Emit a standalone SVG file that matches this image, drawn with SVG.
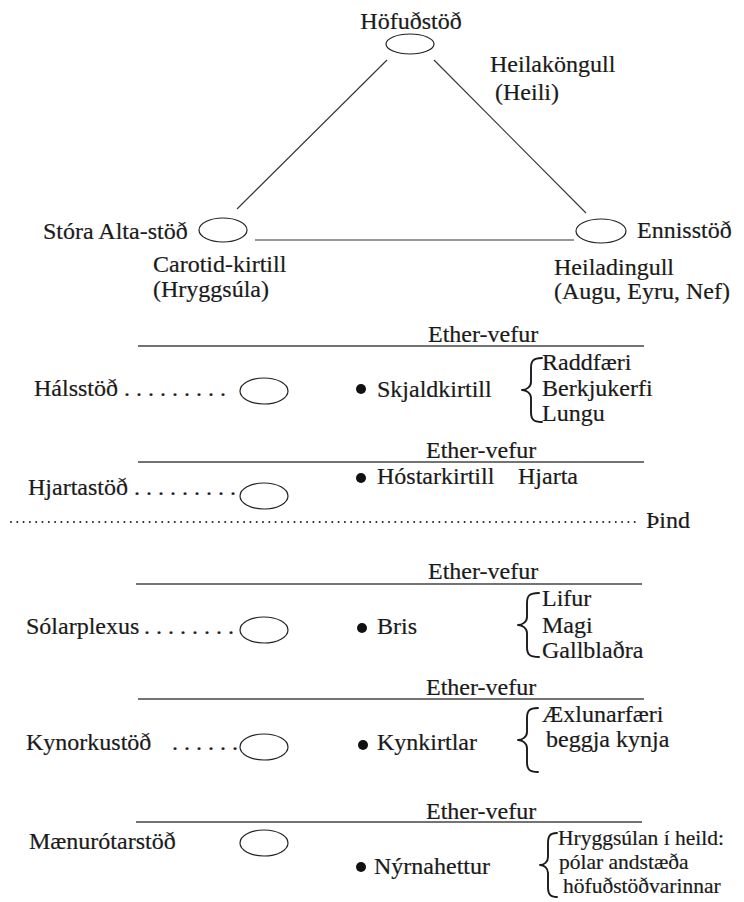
<svg xmlns="http://www.w3.org/2000/svg" width="744" height="902" viewBox="0 0 744 902" font-family="'Liberation Serif', 'DejaVu Serif', 'Noto Serif', serif">
<style>
text{font-family:'Liberation Serif','DejaVu Serif','Noto Serif',serif;font-size:24px;fill:#1a1a1a;stroke:#1a1a1a;stroke-width:0.2}
.mid{text-anchor:middle}
.tight{font-size:21.5px}
.node{fill:#fff;stroke:#222;stroke-width:1.2}
.conn{stroke:#333;stroke-width:1.1;fill:none}
.ether{stroke:#444;stroke-width:1.3}
.brace{fill:none;stroke:#1a1a1a;stroke-width:1.9;stroke-linejoin:round;stroke-linecap:round}
.dot{fill:#111}
</style>
<rect width="744" height="902" fill="#fff"/>
<g id="connectors">
<line class="conn" x1="387" y1="60" x2="237" y2="209"/>
<line class="conn" x1="434" y1="60" x2="586" y2="213"/>
<line class="conn" x1="255" y1="240" x2="574" y2="240"/>
</g>
<g id="hofudstod">
<text class="mid" x="411" y="29">Höfuðstöð</text>
<ellipse class="node" cx="410" cy="44" rx="24" ry="10"/>
<text x="490" y="72">Heilaköngull</text>
<text x="495" y="100">(Heili)</text>
</g>
<g id="stora-alta">
<text x="43" y="239">Stóra Alta-stöð</text>
<ellipse class="node" cx="223" cy="230" rx="24" ry="12"/>
<text x="153" y="272">Carotid-kirtill</text>
<text x="153" y="297">(Hryggsúla)</text>
</g>
<g id="ennisstod">
<ellipse class="node" cx="601" cy="231" rx="25" ry="12"/>
<text x="637" y="238">Ennisstöð</text>
<text x="554" y="275">Heiladingull</text>
<text x="554" y="299">(Augu, Eyru, Nef)</text>
</g>
<g id="halsstod">
<text x="428" y="342">Ether-vefur</text>
<line class="ether" x1="138" y1="346" x2="644" y2="346"/>
<text x="34" y="396">Hálsstöð</text>
<text x="124" y="396">. . . . . . . . .</text>
<ellipse class="node" cx="264" cy="391" rx="24" ry="13"/>
<circle class="dot" cx="361" cy="389" r="5"/>
<text x="377" y="397">Skjaldkirtill</text>
<path class="brace" d="M542,358 C533,358 531,361 531,368 L531,382 C531,387 526,390 522,390 C526,390 531,393 531,398 L531,412 C531,419 533,422 542,422"/>
<text x="542" y="370">Raddfæri</text>
<text x="542" y="396">Berkjukerfi</text>
<text x="542" y="421">Lungu</text>
</g>
<g id="hjartastod">
<text x="426" y="458">Ether-vefur</text>
<line class="ether" x1="138" y1="462" x2="644" y2="462"/>
<circle class="dot" cx="361" cy="478" r="5"/>
<text x="377" y="484">Hóstarkirtill</text>
<text x="518" y="484">Hjarta</text>
<text x="28" y="495">Hjartastöð</text>
<text x="134" y="495">. . . . . . . . .</text>
<ellipse class="node" cx="264" cy="496" rx="24" ry="13"/>
</g>
<g id="thind">
<line x1="11" y1="522" x2="637" y2="522" stroke="#222" stroke-width="2" stroke-linecap="round" stroke-dasharray="0 6.3"/>
<text x="646" y="528">Þind</text>
</g>
<g id="solarplexus">
<text x="428" y="579">Ether-vefur</text>
<line class="ether" x1="136" y1="584" x2="642" y2="584"/>
<text x="26" y="634">Sólarplexus</text>
<text x="144" y="634">. . . . . . . .</text>
<ellipse class="node" cx="264" cy="630" rx="24" ry="13"/>
<circle class="dot" cx="362" cy="628" r="5"/>
<text x="377" y="634">Bris</text>
<path class="brace" d="M539,593 C529,593 527,596 527,603 L527,617 C527,622 522,625 518,625 C522,625 527,628 527,633 L527,647 C527,654 529,657 539,657"/>
<text x="542" y="606">Lifur</text>
<text x="542" y="633">Magi</text>
<text x="542" y="658">Gallblaðra</text>
</g>
<g id="kynorkustod">
<text x="426" y="695">Ether-vefur</text>
<line class="ether" x1="138" y1="699" x2="644" y2="699"/>
<text x="26" y="750">Kynorkustöð</text>
<text x="172" y="750">. . . . . .</text>
<ellipse class="node" cx="264" cy="747" rx="24" ry="13"/>
<circle class="dot" cx="363" cy="745" r="5"/>
<text x="377" y="750">Kynkirtlar</text>
<path class="brace" d="M538,708 C529,708 527,711 527,718 L527,732 C527,737 522,740 518,740 C522,740 527,743 527,748 L527,762 C527,769 529,772 538,772"/>
<text x="542" y="722">Æxlunarfæri</text>
<text x="546" y="747">beggja kynja</text>
</g>
<g id="maenurotarstod">
<text x="426" y="819">Ether-vefur</text>
<line class="ether" x1="136" y1="822" x2="642" y2="822"/>
<text x="29" y="849">Mænurótarstöð</text>
<ellipse class="node" cx="264" cy="843" rx="24" ry="13"/>
<circle class="dot" cx="361" cy="867" r="5"/>
<text x="374" y="874">Nýrnahettur</text>
<path class="brace" d="M557,833 C550,833 548,836 548,843 L548,857 C548,862 544,865 540,865 C544,865 548,868 548,873 L548,887 C548,894 550,897 557,897"/>
<text class="tight" x="558" y="845">Hryggsúlan í heild:</text>
<text class="tight" x="559" y="869">pólar andstæða</text>
<text class="tight" x="563" y="893">höfuðstöðvarinnar</text>
</g>
</svg>
